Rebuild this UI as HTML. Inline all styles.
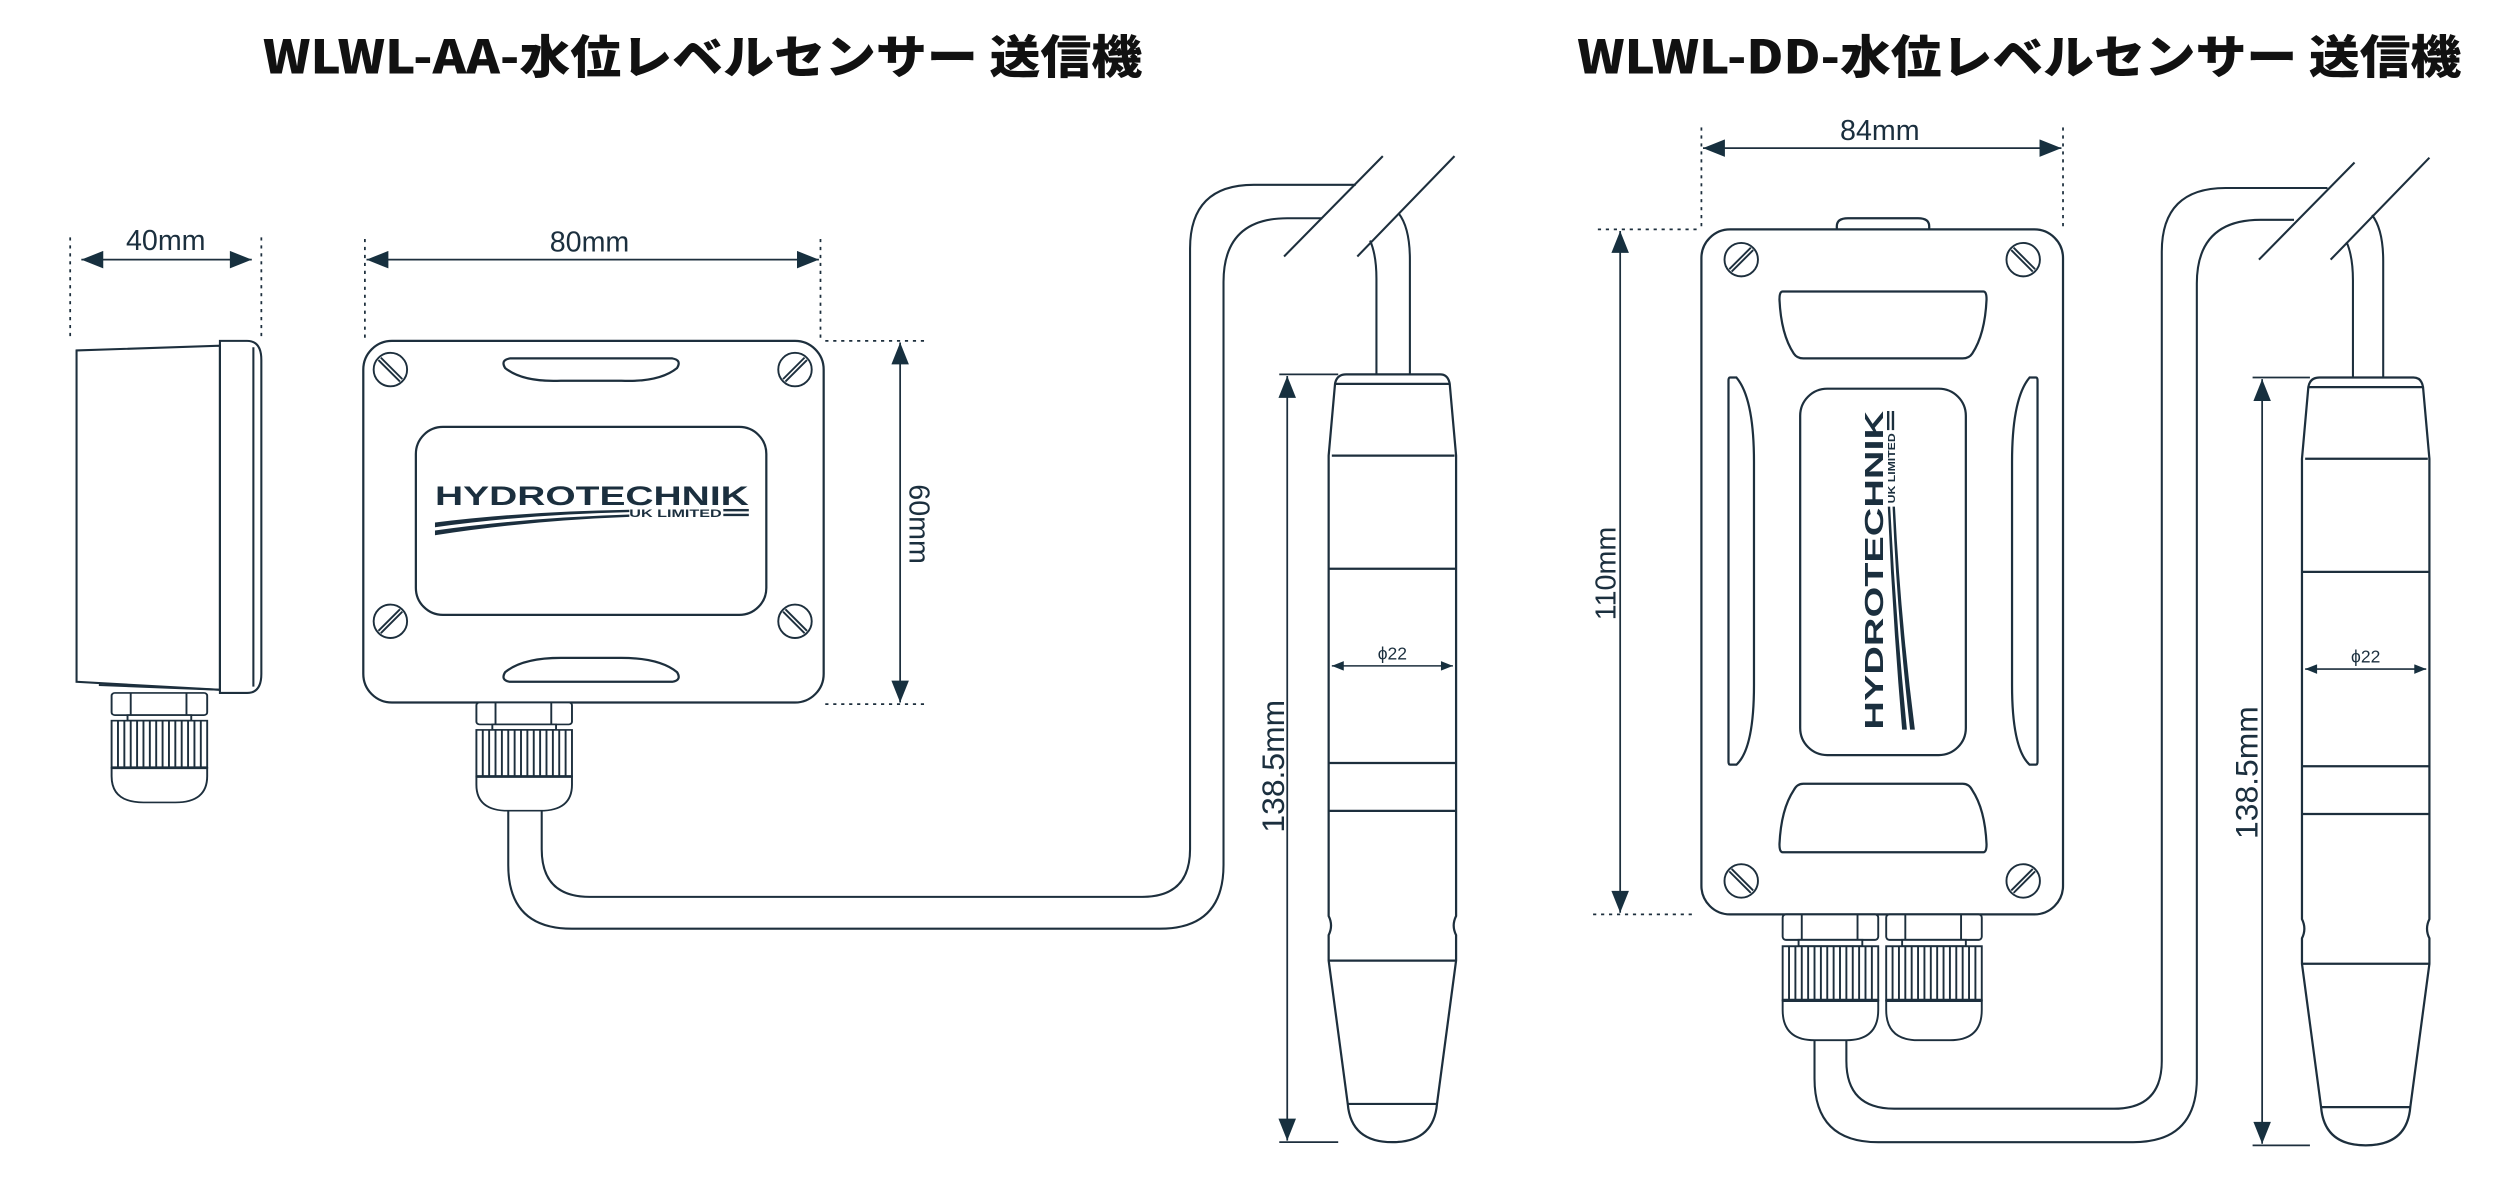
<!DOCTYPE html>
<html><head><meta charset="utf-8"><style>
html,body{margin:0;padding:0;background:#fff;}
svg{display:block;}
</style></head><body>
<svg width="2498" height="1182" viewBox="0 0 1568 742" xmlns="http://www.w3.org/2000/svg">
<defs>
<marker id="ah" viewBox="0 0 10 8" refX="10" refY="4" markerWidth="14" markerHeight="11" markerUnits="userSpaceOnUse" orient="auto-start-reverse">
<path d="M0,0 L10,4 L0,8 Z" fill="#17303f"/>
</marker>
<marker id="as" viewBox="0 0 10 8" refX="10" refY="4" markerWidth="8" markerHeight="6" markerUnits="userSpaceOnUse" orient="auto-start-reverse">
<path d="M0,0 L10,4 L0,8 Z" fill="#17303f"/>
</marker>
<g id="gland" fill="#fff" stroke="#1d2f3d" stroke-width="1.2">
<rect x="0" y="0" width="60" height="16" rx="2"/>
<line x1="12" y1="0" x2="12" y2="16"/><line x1="47" y1="0" x2="47" y2="16"/>
<rect x="10" y="16" width="40" height="4"/>
<path d="M0,54 V60 Q0,79 20,79 H40 Q60,79 60,60 V54 Z"/>
<rect x="0" y="20" width="60" height="34"/>
<path d="M4,20V54M8,20V54M12,20V54M16,20V54M20,20V54M24,20V54M28,20V54M32,20V54M36,20V54M40,20V54M44,20V54M48,20V54M52,20V54M56,20V54"/>
<line x1="0" y1="54" x2="60" y2="54" stroke-width="2"/>
</g>
<g id="screwA" fill="none" stroke="#1d2f3d" stroke-width="1.2">
<circle cx="0" cy="0" r="10.5"/>
<line x1="-7.5" y1="-6" x2="6" y2="7.5"/><line x1="-6" y1="-7.5" x2="7.5" y2="6"/>
</g>
<g id="screwB" fill="none" stroke="#1d2f3d" stroke-width="1.2">
<circle cx="0" cy="0" r="10.5"/>
<line x1="7.5" y1="-6" x2="-6" y2="7.5"/><line x1="6" y1="-7.5" x2="-7.5" y2="6"/>
</g>
<g id="probe" fill="none" stroke="#1d2f3d" stroke-width="1.4">
<path d="M845,235 H904 Q909,235 910,241 L914,286 V575 Q911,581 914,587 V603 L902,693 Q900,717 874,717 Q848,717 846,693 L834,603 V587 Q837,581 834,575 V286 L838,241 Q839,235 845,235 Z" fill="#fff"/>
<path d="M838,241H910M836,286H913M834,357H914M834,479H914M834,509H914M834,603H914M846,693H902"/>
<line x1="836" y1="418" x2="912" y2="418" stroke-width="1" marker-start="url(#as)" marker-end="url(#as)"/>
</g>
</defs>

<g font-family="'Noto Sans CJK JP',sans-serif" font-weight="900" fill="#111" font-size="29">
<text x="165" y="46" textLength="552" lengthAdjust="spacingAndGlyphs">WLWL-AA-水位レベルセンサー 送信機</text>
<text x="990" y="46" textLength="555" lengthAdjust="spacingAndGlyphs">WLWL-DD-水位レベルセンサー 送信機</text>
</g>

<g stroke="#1d2f3d" fill="none" stroke-width="1.3">
<path d="M48,220 L138,217 V433 L48,428 Z"/>
<path d="M138,214 H155 Q164,214 164,226 V423 Q164,435 155,435 H138 Z"/>
<line x1="159" y1="218" x2="159" y2="431"/>
<line x1="62" y1="430" x2="138" y2="433"/>
</g>
<use href="#gland" transform="translate(70,435) scale(1,0.87)"/>

<g stroke="#1d2f3d" fill="none" stroke-width="1.4">
<rect x="228" y="214" width="289" height="227" rx="18"/>
<path d="M320,225 H422 Q428,226 425,231 Q414,240 390,239 H352 Q328,240 317,231 Q314,226 320,225 Z"/>
<path d="M320,428 H422 Q428,427 425,422 Q414,413 390,413 H352 Q328,413 317,422 Q314,427 320,428 Z"/>
<rect x="261" y="268" width="220" height="118" rx="17"/>
</g>
<use href="#screwA" x="245" y="232"/><use href="#screwB" x="499" y="232"/>
<use href="#screwB" x="245" y="390"/><use href="#screwA" x="499" y="390"/>
<g fill="#1b2f3e">
<text x="273" y="317" font-family="'Liberation Sans',sans-serif" font-weight="bold" font-size="17" textLength="197" lengthAdjust="spacingAndGlyphs">HYDROTECHNIK</text>
<text x="395" y="324.5" font-family="'Liberation Sans',sans-serif" font-weight="bold" font-size="6.8" textLength="58" lengthAdjust="spacingAndGlyphs">UK LIMITED</text>
<path d="M273,328 Q330,321 395,320 L395,321.5 Q330,323 273,331 Z"/>
<path d="M273,333 Q330,325 395,323 L395,324.5 Q330,327 273,336 Z"/>
<rect x="454" y="319.5" width="16" height="1.5"/><rect x="454" y="322.5" width="16" height="1.5"/>
</g>
<use href="#gland" transform="translate(299,441) scale(1,0.86)"/>

<g stroke="#1d2f3d" fill="none" stroke-width="1.3">
<path d="M319,509 V543 Q319,583 359,583 H728 Q768,583 768,543 V177 Q768,137 808,137 H830"/>
<path d="M340,509 V533 Q340,563 370,563 H717 Q747,563 747,533 V156 Q747,116 787,116 H851"/>
<path d="M864,235 V175 Q864,160 860,151"/>
<path d="M885,235 V163 Q885,143 878,134"/>
<line x1="806" y1="161" x2="868" y2="98"/>
<line x1="852" y1="161" x2="913" y2="98"/>
</g>
<use href="#probe"/>
<g stroke="#1d2f3d" stroke-width="1.1" fill="none">
<line x1="803" y1="235" x2="840" y2="235"/><line x1="803" y1="717" x2="840" y2="717"/>
<line x1="808" y1="236" x2="808" y2="716" marker-start="url(#ah)" marker-end="url(#ah)"/>
</g>

<g stroke="#1d2f3d" fill="none" stroke-width="1.4">
<path d="M1153,144 V142 Q1153,137 1160,137 H1204 Q1211,137 1211,142 V144"/>
<rect x="1068" y="144" width="227" height="430" rx="18"/>
<path d="M1119,183 H1245 Q1247,183 1247,188 Q1246,210 1238,222 Q1236,225 1232,225 H1132 Q1128,225 1126,222 Q1118,210 1117,188 Q1117,183 1119,183 Z"/>
<path d="M1119,535 H1245 Q1247,535 1247,530 Q1246,508 1238,496 Q1236,492 1232,492 H1132 Q1128,492 1126,496 Q1118,508 1117,530 Q1117,535 1119,535 Z"/>
<path d="M1086,237 H1090 Q1101,250 1101,290 V430 Q1101,470 1090,480 H1086 Q1085,480 1085,478 V239 Q1085,237 1086,237 Z"/>
<path d="M1278,237 H1274 Q1263,250 1263,290 V430 Q1263,470 1274,480 H1278 Q1279,480 1279,478 V239 Q1279,237 1278,237 Z"/>
<rect x="1130" y="244" width="104" height="230" rx="17"/>
</g>
<use href="#screwB" x="1093" y="163"/><use href="#screwA" x="1270" y="163"/>
<use href="#screwA" x="1093" y="553"/><use href="#screwB" x="1270" y="553"/>
<g fill="#1b2f3e" transform="translate(1182,458) rotate(-90)">
<text x="0" y="0" font-family="'Liberation Sans',sans-serif" font-weight="bold" font-size="16" textLength="200" lengthAdjust="spacingAndGlyphs">HYDROTECHNIK</text>
<text x="142" y="7.5" font-family="'Liberation Sans',sans-serif" font-weight="bold" font-size="6.5" textLength="44" lengthAdjust="spacingAndGlyphs">UK LIMITED</text>
<path d="M0,12 Q70,6 140,3 L140,4.5 Q70,8 0,15 Z"/>
<path d="M0,17 Q70,9 140,6 L140,7.5 Q70,11 0,20 Z"/>
<rect x="188" y="2.5" width="12" height="1.5"/><rect x="188" y="5.5" width="12" height="1.5"/>
</g>
<use href="#gland" x="1119" y="574"/>
<use href="#gland" x="1184" y="574"/>

<g stroke="#1d2f3d" fill="none" stroke-width="1.3">
<path d="M1139,653 V677 Q1139,717 1179,717 H1339 Q1379,717 1379,677 V178 Q1379,138 1419,138 H1440"/>
<path d="M1159,653 V666 Q1159,696 1189,696 H1327 Q1357,696 1357,666 V158 Q1357,118 1397,118 H1461"/>
<path d="M1477,237 V176 Q1477,161 1473,152"/>
<path d="M1496,237 V164 Q1496,144 1489,135"/>
<line x1="1418" y1="163" x2="1478" y2="102"/>
<line x1="1463" y1="163" x2="1525" y2="99"/>
</g>
<use href="#probe" transform="translate(611,2)"/>
<g stroke="#1d2f3d" stroke-width="1.1" fill="none">
<line x1="1414" y1="237" x2="1450" y2="237"/><line x1="1414" y1="719" x2="1450" y2="719"/>
<line x1="1420" y1="238" x2="1420" y2="718" marker-start="url(#ah)" marker-end="url(#ah)"/>
</g>

<g stroke="#1d2f3d" stroke-width="1.1" fill="none" stroke-dasharray="2,3">
<line x1="44" y1="149" x2="44" y2="213"/><line x1="164" y1="149" x2="164" y2="213"/>
<line x1="229" y1="150" x2="229" y2="213"/><line x1="515" y1="150" x2="515" y2="213"/>
<line x1="518" y1="214" x2="583" y2="214"/><line x1="518" y1="442" x2="583" y2="442"/>
<line x1="1068" y1="80" x2="1068" y2="143"/><line x1="1295" y1="80" x2="1295" y2="143"/>
<line x1="1003" y1="144" x2="1066" y2="144"/><line x1="1000" y1="574" x2="1065" y2="574"/>
</g>
<g stroke="#1d2f3d" stroke-width="1.1" fill="none">
<line x1="51" y1="163" x2="158" y2="163" marker-start="url(#ah)" marker-end="url(#ah)"/>
<line x1="230" y1="163" x2="514" y2="163" marker-start="url(#ah)" marker-end="url(#ah)"/>
<line x1="565" y1="215" x2="565" y2="441" marker-start="url(#ah)" marker-end="url(#ah)"/>
<line x1="1069" y1="93" x2="1294" y2="93" marker-start="url(#ah)" marker-end="url(#ah)"/>
<line x1="1017" y1="145" x2="1017" y2="573" marker-start="url(#ah)" marker-end="url(#ah)"/>
</g>
<g font-family="'Liberation Sans',sans-serif" fill="#1b2f3e" font-size="18" text-anchor="middle">
<text x="104" y="157">40mm</text>
<text x="370" y="158">80mm</text>
<text x="1180" y="88">84mm</text>
<text transform="translate(571,329) rotate(90)">60mm</text>
<text transform="translate(1014,360) rotate(-90)">110mm</text>
<text transform="translate(806,481) rotate(-90)" font-size="20">138.5mm</text>
<text transform="translate(1417,485) rotate(-90)" font-size="20">138.5mm</text>
<text x="874" y="414" font-size="11">ϕ22</text>
<text x="1485" y="416" font-size="11">ϕ22</text>
</g>
</svg>
</body></html>
